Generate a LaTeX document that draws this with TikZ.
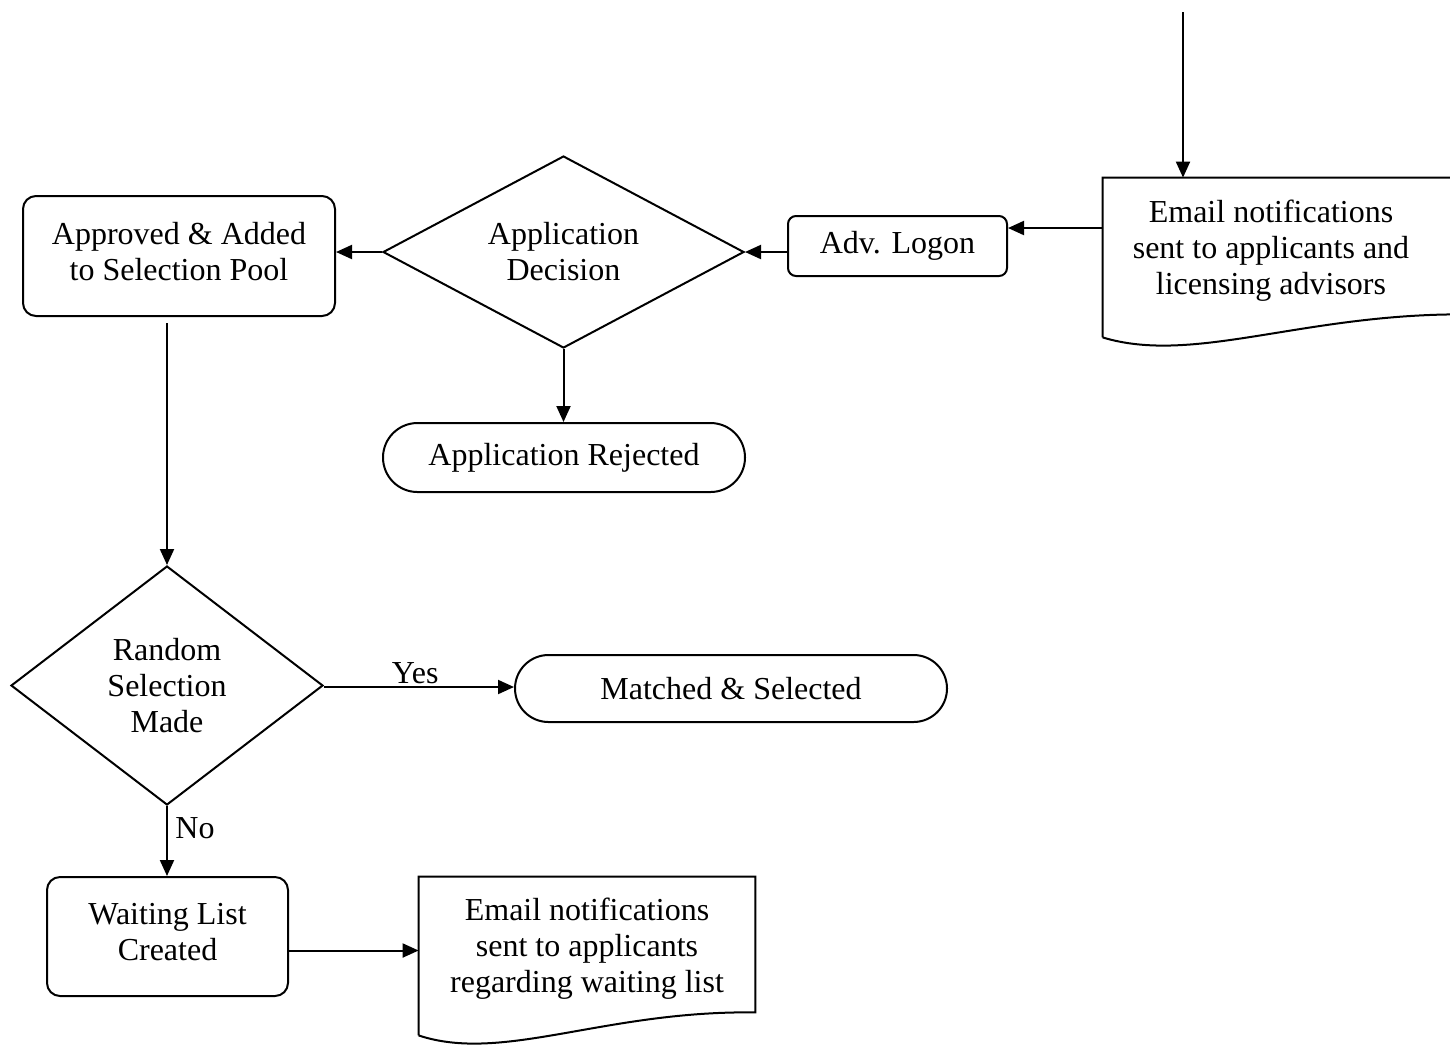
\documentclass[tikz,border=0pt]{standalone}
\usepackage{fontspec}
\setmainfont{Liberation Serif}
\usetikzlibrary{shapes.geometric,shapes.misc,arrows.meta,calc}

\tikzset{
  line/.style={line width=1pt, black},
  flow/.style={line, -{Triangle[length=8pt,width=7pt]}},
  txt/.style={align=center, inner sep=0pt, font=\fontsize{16}{18}\selectfont},
  procbox/.style={line, draw, rounded corners=6.5pt, inner sep=0pt},
  decision/.style={line, draw, diamond, inner sep=0pt, txt},
  terminal/.style={line, draw, rounded rectangle, rounded rectangle arc length=180, inner sep=0pt, txt},
  docframe/.style={draw=none, inner sep=0pt},
}

% outline of a document symbol: flat top, wavy bottom edge
\newcommand\docoutline[1]{%
  \draw[line] (#1.south west) -- (#1.north west) -- (#1.north east)
    -- ($(#1.south east)+(0,-23)$)
    .. controls ($(#1.south west)!0.55!(#1.south east)+(0,-25)$)
       and ($(#1.south west)!0.25!(#1.south east)+(0,28)$) .. (#1.south west);}

\begin{document}
\begin{tikzpicture}[x=0.5pt,y=-0.5pt]
  \useasboundingbox (0,0) rectangle (1450,1046);

  % incoming notification document
  \node[docframe, minimum width=183.5pt, minimum height=79.5pt] (doc1) at (1286.5,257.5) {};
  \docoutline{doc1}
  \node[txt] (doc1txt) at (1271,251) {Email notifications\\sent to applicants and\\licensing advisors};

  \node[procbox, rounded corners=4pt, minimum width=109.5pt, minimum height=30pt, txt] (adv) at (897.5,246) {Adv. Logon};

  \node[decision, shape aspect=1.88, minimum width=180.5pt, minimum height=96pt] (dec) at (563.5,252) {Application\\Decision};

  \node[procbox, minimum width=156pt, minimum height=60pt] (approved) at (179,256) {};
  \node[txt] (approvedtxt) at (179,251.5) {Approved \& Added\\to Selection Pool};

  \node[terminal, minimum width=181pt, minimum height=34.5pt] (rej) at (564,457.5) {Application Rejected};

  \node[decision, shape aspect=1.3, minimum width=156pt, minimum height=119.5pt] (rand) at (167,685.5) {Random\\Selection\\Made};

  \node[terminal, minimum width=216pt, minimum height=33.5pt] (match) at (731,688.5) {Matched \& Selected};

  \node[procbox, minimum width=120.5pt, minimum height=59.5pt] (wait) at (167.5,936.5) {};
  \node[txt] (waittxt) at (167.5,932.5) {Waiting List\\Created};

  % waiting-list notification document
  \node[docframe, minimum width=168pt, minimum height=79pt] (doc2) at (587,956) {};
  \docoutline{doc2}
  \node[txt] (doc2txt) at (587,949) {Email notifications\\sent to applicants\\regarding waiting list};

  % connectors
  \coordinate (feed) at (1183,12);
  \draw[flow] (feed) -- (feed |- doc1.north);

  \coordinate (advin) at ($(adv.east)+(0,-18)$);
  \draw[flow] (doc1.west |- advin) -- (advin);

  \draw[flow] (adv.west |- dec.east) -- (dec.east);
  \draw[flow] (dec.west) -- (approved.east |- dec.west);
  \draw[flow] (dec.south) -- (dec.south |- rej.north);

  \coordinate (poolout) at (167,323);
  \draw[flow] (poolout) -- (rand.north);

  \coordinate (yesout) at ($(rand.east)+(0,1.5)$);
  \draw[flow] (yesout) -- (match.west |- yesout)
    node[txt, pos=0.48, above=1pt] (yes) {Yes};

  \draw[flow] (rand.south) -- (rand.south |- wait.north);
  \node[txt, anchor=west] (no) at (175,828) {No};

  \coordinate (waitout) at ($(wait.east)+(0,14)$);
  \draw[flow] (waitout) -- (doc2.west |- waitout);
\end{tikzpicture}
\end{document}
